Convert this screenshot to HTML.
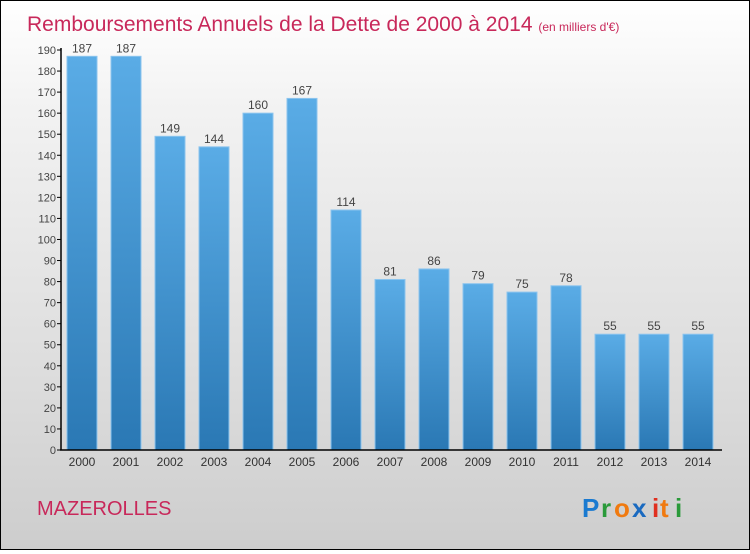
<!DOCTYPE html>
<html><head><meta charset="utf-8"><style>
body{margin:0;width:750px;height:550px;overflow:hidden}
#c{position:relative;width:748px;height:548px;border:1px solid #000;background:linear-gradient(#fff 0%,#f2f2f2 20%,#dcdcdc 70%,#cdcdcd 100%);font-family:"Liberation Sans",sans-serif}
</style></head><body>
<div id="c">
<svg width="748" height="548">
<defs><linearGradient id="g" x1="0" y1="0" x2="0" y2="1"><stop offset="0" stop-color="#5aace6"/><stop offset="1" stop-color="#2a78b4"/></linearGradient></defs>
<text x="26" y="30" font-size="21" fill="#c8285a">Remboursements Annuels de la Dette de 2000 à 2014 <tspan font-size="12">(en milliers d'€)</tspan></text>
<g id="plot"></g>
<text x="36" y="514" font-size="20" fill="#c8285a">MAZEROLLES</text>
<g font-size="26" font-weight="bold" font-family="'Liberation Sans',sans-serif">
<text x="581" y="516" fill="#1a7ad0">P</text><text x="600" y="516" fill="#2a9a3a">r</text><text x="613" y="516" fill="#f07a10">o</text><text x="631" y="516" fill="#1a6ac0">x</text><text x="651" y="516" fill="#e03020">i</text><text x="659" y="516" fill="#f07a10">t</text><text x="674" y="516" fill="#2a9a3a">i</text>
</g>
</svg>
</div>
<script>
const years=['2000','2001','2002','2003','2004','2005','2006','2007','2008','2009','2010','2011','2012','2013','2014'];
const values=[187,187,149,144,160,167,114,81,86,79,75,78,55,55,55];
const ticks=[0,10,20,30,40,50,60,70,80,90,100,110,120,130,140,150,160,170,180,190];
const NS='http://www.w3.org/2000/svg';
const g=document.getElementById('plot');
const y0=449,ppu=400/190,x0=81,step=44,bw=30;
const Y=v=>y0-v*ppu, X=i=>x0+i*step;
function mk(t,a,txt){const e=document.createElementNS(NS,t);for(const k in a)e.setAttribute(k,a[k]);if(txt!=null)e.textContent=txt;g.appendChild(e);return e;}
values.forEach((v,i)=>{
 const r=mk('rect',{x:X(i)-bw/2,y:Y(v),width:bw,height:v*ppu,fill:'url(#g)',stroke:'#8cc4ee','stroke-width':1});
 
 
 const t=mk('text',{x:X(i),y:Y(v)-4,'text-anchor':'middle','font-size':12,fill:'#444'},String(v));
 
 
 const l=mk('text',{x:X(i),y:y0+16,'text-anchor':'middle','font-size':12,fill:'#333'},years[i]);
 
 
});
ticks.forEach(v=>{
 mk('line',{x1:56,x2:60,y1:Y(v),y2:Y(v),stroke:'#000'});
 const t=mk('text',{x:55,y:Y(v)+4,'text-anchor':'end','font-size':11,fill:'#444'},String(v));
 
 
});
const ya=mk('line',{x1:60,x2:60,y1:Y(190)-2,y2:y0,stroke:'#000','stroke-width':1.5});


const xa=mk('line',{x1:59,x2:721,y1:y0,y2:y0,stroke:'#000','stroke-width':1.5});


</script>
</body></html>
